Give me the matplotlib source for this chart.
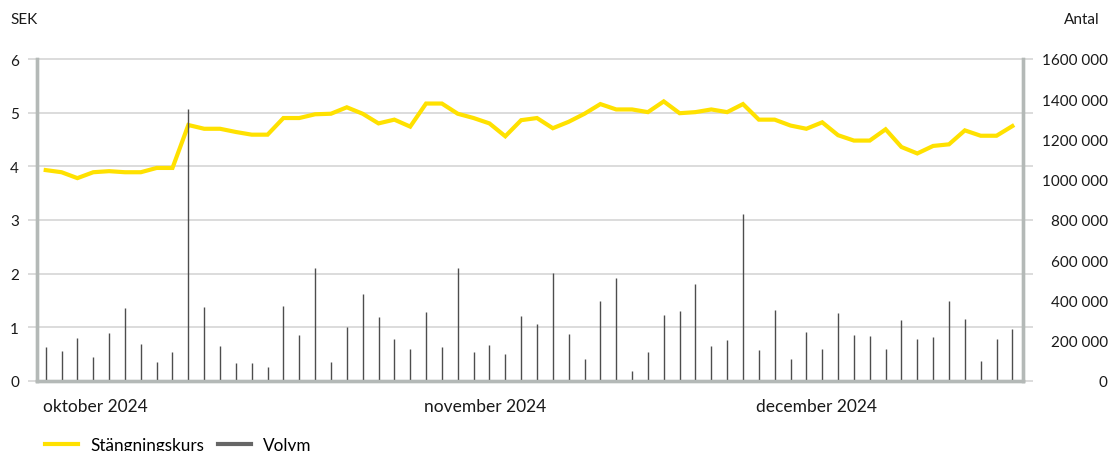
import matplotlib
matplotlib.use("Agg")
import matplotlib.pyplot as plt
from matplotlib.lines import Line2D

plt.rcParams['font.family'] = ['Lato', 'DejaVu Sans']

# Closing price (SEK), one value per trading day
price = [3.93, 3.89, 3.78, 3.89, 3.91, 3.89, 3.89, 3.97, 3.97, 4.77,
         4.70, 4.70, 4.64, 4.59, 4.59, 4.90, 4.90, 4.97, 4.98, 5.10,
         4.98, 4.80, 4.87, 4.74, 5.17, 5.17, 4.98, 4.90, 4.80, 4.56,
         4.86, 4.90, 4.71, 4.83, 4.98, 5.16, 5.06, 5.06, 5.01, 5.21,
         4.99, 5.01, 5.06, 5.01, 5.16, 4.87, 4.87, 4.76, 4.70, 4.82,
         4.58, 4.48, 4.48, 4.69, 4.36, 4.24, 4.38, 4.41, 4.67, 4.57,
         4.57, 4.75]

# Volume (number of shares)
volume = [170600, 150700, 215300, 120900, 240200, 364400, 185500, 96000, 145800, 1351000,
          369400, 175600, 91100, 91100, 71200, 374400, 230200, 563200, 96000, 270000,
          434000, 319700, 210300, 160700, 344500, 170600, 563200, 145800, 180500, 135800,
          324700, 284900, 538300, 235200, 111000, 399200, 513500, 51300, 145800, 329600,
          349500, 483700, 175600, 205400, 831500, 155700, 354400, 111000, 245100, 160700,
          339600, 230200, 225300, 160700, 304800, 210300, 220300, 399200, 309700, 101000,
          210300, 260000]

month_labels = ["oktober 2024", "november 2024", "december 2024"]
month_start_idx = [0, 24, 45]

left_ticks = [0, 1, 2, 3, 4, 5, 6]
right_ticks = [0, 200000, 400000, 600000, 800000, 1000000, 1200000, 1400000, 1600000]

YELLOW = "#FFE100"
BARC = "#4d4d4d"
AXC = "#b4b9b7"
GRIDC = "#d9d9d9"
TXT = "#1a1a1a"

W, H = 1116, 452
fig = plt.figure(figsize=(W / 100, H / 100), dpi=100)
ax = fig.add_axes([37 / W, 1 - 382 / H, (1023 - 37) / W, (382 - 60) / H])
ax2 = ax.twinx()

x = list(range(len(price)))

# gridlines (extend a little beyond both axes)
ax.hlines(left_ticks, -0.009, 1.01, transform=ax.get_yaxis_transform(),
          colors=GRIDC, linewidth=1.3, clip_on=False, zorder=0)

ax.plot(x, price, color=YELLOW, linewidth=3, solid_joinstyle='miter', zorder=3)
ax2.vlines(x, 0, volume, colors=BARC, linewidth=1.0, zorder=2)

ax.set_xlim(-0.55, len(price) - 1 + 0.67)
ax.set_ylim(0, 6)
ax2.set_ylim(0, 1600000)
ax.set_yticks(left_ticks)
ax2.set_yticks(right_ticks)
ax.set_yticklabels([str(t) for t in left_ticks])
ax2.set_yticklabels(["0" if t == 0 else f"{t // 1000} 000" for t in right_ticks])
ax.set_xticks([])

ax.tick_params(axis='y', length=0, pad=13, labelsize=11, labelcolor=TXT)
ax2.tick_params(axis='y', length=0, pad=61, labelsize=11, labelcolor=TXT)
for lab in ax2.get_yticklabels():
    lab.set_horizontalalignment('right')

for a in (ax, ax2):
    a.spines['top'].set_visible(False)
    for s in ('left', 'right', 'bottom'):
        a.spines[s].set_color(AXC)
        a.spines[s].set_linewidth(2.4)
    a.set_facecolor('none')

# month labels under the axis
for lab, idx in zip(month_labels, month_start_idx):
    ax.text(idx - 0.15, -0.078, lab, transform=ax.get_xaxis_transform(),
            ha='left', va='center', fontsize=12.5, color=TXT)

fig.text(10 / W, 1 - 20 / H, "SEK", ha='left', va='center', fontsize=11, color=TXT)
fig.text(1100 / W, 1 - 20 / H, "Antal", ha='right', va='center', fontsize=11, color=TXT)

handles = [Line2D([0], [0], color=YELLOW, linewidth=3),
           Line2D([0], [0], color="#666666", linewidth=3)]
fig.legend(handles, ["Stängningskurs", "Volym"], loc='center left',
           bbox_to_anchor=(45 / W, 1 - 446 / H), ncol=2, frameon=False,
           fontsize=12.3, handlelength=1.95, columnspacing=0.8, handletextpad=0.7,
           borderaxespad=0, borderpad=0)

fig.savefig("out.png", dpi=100, facecolor='white')
